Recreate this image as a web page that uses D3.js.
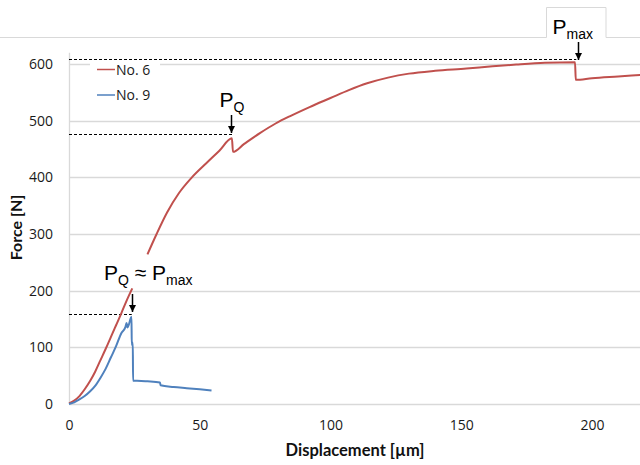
<!DOCTYPE html>
<html>
<head>
<meta charset="utf-8">
<script src="https://cdn.jsdelivr.net/npm/d3@7"></script>
<style>
  html, body { margin: 0; padding: 0; background: #fff; }
  svg { display: block; }
</style>
</head>
<body>
<svg id="chart" width="640" height="465"></svg>
<script>
// No. 6 (red) - null marks the break in the record
const no6X = [0, 2, 4, 6, 8, 10, 12, 14, 16, 18, 20, 22, 24.2, null,
  30, 33.5, 37.5, 42, 47, 52.5, 57.5, 62.3, 62.7, 67, 73, 79, 85, 92, 100,
  107, 114, 122, 130, 140, 152, 162, 171, 182, 193.5, 193.8, 200, 210, 220];
const no6Y = [1, 6, 14, 26, 40, 57, 77, 97, 118, 139, 160, 182, 204, null,
  264, 300, 338, 372, 400, 425, 447, 469, 445, 459, 478, 495, 509, 524, 540,
  554, 566, 576, 583, 588, 592, 596, 599, 602, 603, 572, 575, 578, 581];

// No. 9 (blue)
const no9X = [0, 2, 4, 6, 8, 10, 12, 14, 16, 18, 20, 21.6, 22, 22.4, 23.9, 24.0, 24.4, 24.5,
  26, 30, 34.8, 35, 40, 45, 50, 54.5];
const no9Y = [0, 3, 8, 14, 22, 32, 46, 62, 82, 102, 125, 136, 143, 135, 154, 104, 108, 41,
  41, 40, 38, 33, 30, 28, 26, 24];

const xTicks = [0, 50, 100, 150, 200];
const yTicks = [0, 100, 200, 300, 400, 500, 600];

const seriesNames = ['No. 6', 'No. 9'];
const seriesColors = ['#C0504D', '#4F81BD'];

// reference levels: P_max of No. 6, P_Q of No. 6, P_Q of No. 9
const refLevels = [608, 477, 158];
const refEndX = [194, 62.8, 24];

const width = 640, height = 465;
const svg = d3.select('#chart');

const x = d3.scaleLinear().domain([0, 200]).range([69, 592]);
const y = d3.scaleLinear().domain([0, 600]).range([404, 64]);
const gridColor = '#d9d9d9';
const tickFont = '"Open Sans", sans-serif';

// top frame line with the P_max box
svg.append('path')
  .attr('d', `M0,37.5 H546.5 V7.5 H606 V37.5 H${width}`)
  .attr('fill', 'none')
  .attr('stroke', gridColor)
  .attr('stroke-width', 1);

// gridlines
svg.append('g')
  .selectAll('line')
  .data(yTicks)
  .join('line')
  .attr('x1', x(0)).attr('x2', width)
  .attr('y1', d => Math.round(y(d)) + 0.5).attr('y2', d => Math.round(y(d)) + 0.5)
  .attr('stroke', gridColor)
  .attr('stroke-width', 1.3);

// vertical axis line
svg.append('line')
  .attr('x1', x(0) + 0.5).attr('x2', x(0) + 0.5)
  .attr('y1', y(620)).attr('y2', y(0))
  .attr('stroke', gridColor)
  .attr('stroke-width', 1.3);

// tick labels
const yAxis = svg.append('g')
  .attr('transform', `translate(${x(0)},0)`)
  .call(d3.axisLeft(y).tickValues(yTicks).tickSize(0).tickPadding(16));
const xAxis = svg.append('g')
  .attr('transform', `translate(0,${y(0)})`)
  .call(d3.axisBottom(x).tickValues(xTicks).tickSize(0).tickPadding(16));
[yAxis, xAxis].forEach(g => {
  g.select('.domain').remove();
  g.selectAll('text')
    .attr('font-family', tickFont)
    .attr('font-size', 14)
    .attr('fill', '#1a1a1a');
});

// axis titles
svg.append('text')
  .attr('transform', 'translate(22,227.5) rotate(-90)')
  .attr('text-anchor', 'middle')
  .attr('font-family', 'Lato, "Open Sans", sans-serif')
  .attr('font-weight', 'bold')
  .attr('font-size', 16)
  .attr('fill', '#111')
  .text('Force [N]');

svg.append('text')
  .attr('x', 355).attr('y', 456)
  .attr('text-anchor', 'middle')
  .attr('font-family', 'Lato, "Open Sans", sans-serif')
  .attr('font-weight', 'bold')
  .attr('font-size', 16.5)
  .attr('fill', '#111')
  .text('Displacement [µm]');

// legend (white box hides the 600 gridline)
svg.append('rect')
  .attr('x', 90).attr('y', 61).attr('width', 70).attr('height', 44)
  .attr('fill', '#fff');

// dashed reference lines
svg.append('g')
  .selectAll('line')
  .data(refLevels)
  .join('line')
  .attr('x1', x(0)).attr('x2', (d, i) => x(refEndX[i]))
  .attr('y1', d => Math.round(y(d)) + 0.5).attr('y2', d => Math.round(y(d)) + 0.5)
  .attr('stroke', '#000')
  .attr('stroke-width', 1)
  .attr('stroke-dasharray', '3,2');

const legend = svg.append('g')
  .selectAll('g')
  .data(seriesNames)
  .join('g')
  .attr('transform', (d, i) => `translate(97,${69.5 + i * 25.5})`);
legend.append('line')
  .attr('x1', 0).attr('x2', 18)
  .attr('stroke', (d, i) => seriesColors[i])
  .attr('stroke-width', 1.5);
legend.append('text')
  .attr('x', 19)
  .attr('dy', '0.36em')
  .attr('font-family', tickFont)
  .attr('font-size', 14)
  .attr('fill', '#1a1a1a')
  .text(d => d);

// curves
const line = d3.line()
  .defined(d => d[1] !== null)
  .curve(d3.curveMonotoneX)
  .x(d => x(d[0]))
  .y(d => y(d[1]));

const series = [
  d3.zip(no6X, no6Y),
  d3.zip(no9X, no9Y)
];

svg.append('g')
  .selectAll('path')
  .data(series)
  .join('path')
  .attr('d', line)
  .attr('fill', 'none')
  .attr('stroke', (d, i) => seriesColors[i])
  .attr('stroke-width', 2)
  .attr('stroke-linejoin', 'round');

// arrows
svg.append('defs').append('marker')
  .attr('id', 'arrow')
  .attr('viewBox', '0 0 10 10')
  .attr('refX', 10).attr('refY', 5)
  .attr('markerWidth', 5).attr('markerHeight', 5)
  .attr('orient', 'auto')
  .append('path')
  .attr('d', 'M0,0 L10,5 L0,10 z')
  .attr('fill', '#000');

const arrowX = [194.5, 62, 24.2];
const arrowTop = [42, 115, 294];
svg.append('g')
  .selectAll('line')
  .data(arrowX)
  .join('line')
  .attr('x1', d => Math.round(x(d)) + 0.5).attr('x2', d => Math.round(x(d)) + 0.5)
  .attr('y1', (d, i) => arrowTop[i])
  .attr('y2', (d, i) => arrowTop[i] + 18)
  .attr('stroke', '#000')
  .attr('stroke-width', 1.5)
  .attr('marker-end', 'url(#arrow)');

// P labels
const labelFont = 'Liberation Sans, Arial, sans-serif';
function pLabel(px, py, parts) {
  const t = svg.append('text')
    .attr('x', px).attr('y', py)
    .attr('font-family', labelFont)
    .attr('fill', '#000');
  let shift = 0;
  parts.forEach(([txt, sub]) => {
    const dy = sub ? 5 : 0;
    t.append('tspan')
      .attr('dy', dy - shift)
      .attr('font-size', sub ? 14 : 21)
      .text(txt);
    shift = dy;
  });
}
pLabel(552.5, 33.5, [['P', false], ['max', true]]);
pLabel(219.5, 106.5, [['P', false], ['Q', true]]);
pLabel(104, 280, [['P', false], ['Q', true], [' \u2248 P', false], ['max', true]]);
</script>
</body>
</html>
